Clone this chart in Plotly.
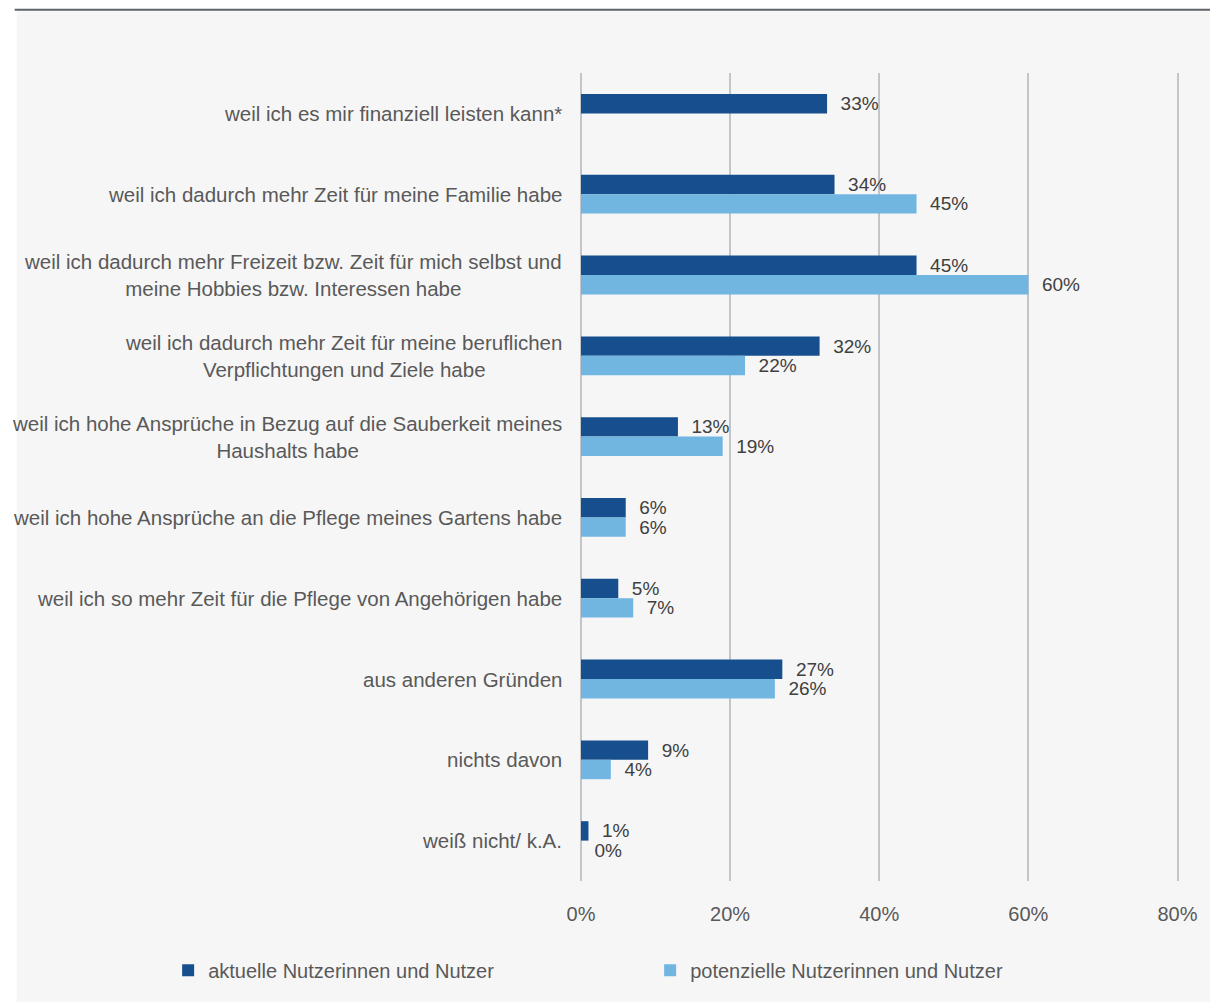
import plotly.graph_objects as go

# Reasons (top to bottom) and shares in percent
categories = [
    "weil ich es mir finanziell leisten kann*",
    "weil ich dadurch mehr Zeit für meine Familie habe",
    "weil ich dadurch mehr Freizeit bzw. Zeit für mich selbst und<br>meine Hobbies bzw. Interessen habe",
    "weil ich dadurch mehr Zeit für meine beruflichen<br>Verpflichtungen und Ziele habe",
    "weil ich hohe Ansprüche in Bezug auf die Sauberkeit meines<br>Haushalts habe",
    "weil ich hohe Ansprüche an die Pflege meines Gartens habe",
    "weil ich so mehr Zeit für die Pflege von Angehörigen habe",
    "aus anderen Gründen",
    "nichts davon",
    "weiß nicht/ k.A.",
]
aktuelle = [33, 34, 45, 32, 13, 6, 5, 27, 9, 1]
potenzielle = [None, 45, 60, 22, 19, 6, 7, 26, 4, 0]
series_names = ["aktuelle Nutzerinnen und Nutzer", "potenzielle Nutzerinnen und Nutzer"]
x_ticks = [0, 20, 40, 60, 80]
x_tick_labels = ["0%", "20%", "40%", "60%", "80%"]

W, H = 1210, 1002
ML, MR, MT, MB = 581, 25, 73, 117
PW, PH = W - ML - MR, H - MT - MB
X_MAX = 80.2  # a little headroom so the 80 % gridline is drawn

DARK = "#174f8e"
LIGHT = "#70b6e1"
TEXT = "#595959"
LABEL = "#404040"
GRID = "#c3c6c9"
FONT = "Liberation Sans, Arial, sans-serif"


def px_x(px):
    return (px - ML) / PW


def px_y(py):
    return (H - MB - py) / PH


fig = go.Figure()
for name, vals, col in [(series_names[0], aktuelle, DARK), (series_names[1], potenzielle, LIGHT)]:
    fig.add_trace(go.Bar(
        y=categories, x=vals, name=name, orientation="h",
        marker=dict(color=col, line=dict(width=0)),
        text=[None if v is None else f"\u00a0\u00a0{v}%" for v in vals],
        textposition="outside", cliponaxis=False, constraintext="none",
        textfont=dict(family=FONT, size=19, color=LABEL),
        hoverinfo="skip",
    ))

# Category labels: right-aligned block, lines centred within it
for c in categories:
    fig.add_annotation(
        xref="paper", yref="y", x=0, y=c, text=c, showarrow=False,
        xanchor="right", yanchor="middle", align="center", xshift=-17,
        font=dict(family=FONT, size=20.5, color=TEXT),
    )

# Page frame: white border strip, grey panel and top rule
fig.add_shape(type="rect", xref="paper", yref="paper", layer="below",
              x0=px_x(11), x1=px_x(W + 10), y0=px_y(H + 10), y1=px_y(10),
              fillcolor="#f6f6f6", line=dict(width=0))
fig.add_shape(type="line", xref="paper", yref="paper", layer="below",
              x0=px_x(9), x1=px_x(W + 10), y0=px_y(9.5), y1=px_y(9.5),
              line=dict(color="#5f6368", width=2))

fig.update_layout(
    width=W, height=H,
    margin=dict(l=ML, r=MR, t=MT, b=MB, pad=0),
    paper_bgcolor="white", plot_bgcolor="rgba(0,0,0,0)",
    barmode="group", bargap=0.52, bargroupgap=0,
    font=dict(family=FONT, size=20, color=TEXT),
    xaxis=dict(range=[0, X_MAX], tickvals=x_ticks, ticktext=x_tick_labels,
               showgrid=True, gridcolor=GRID, gridwidth=2,
               zeroline=True, zerolinecolor=GRID, zerolinewidth=2,
               showline=False, ticks="", ticklabelstandoff=19,
               tickfont=dict(family=FONT, size=20, color=TEXT), fixedrange=True),
    yaxis=dict(categoryorder="array", categoryarray=categories, autorange="reversed",
               showticklabels=False, showgrid=False, zeroline=False, ticks="",
               fixedrange=True),
    legend=dict(orientation="h", x=px_x(164), y=px_y(955), xanchor="left", yanchor="top",
                entrywidth=437, bgcolor="rgba(0,0,0,0)",
                font=dict(family=FONT, size=20, color=TEXT), traceorder="normal"),
    showlegend=True,
)

fig.write_html("out.html")
